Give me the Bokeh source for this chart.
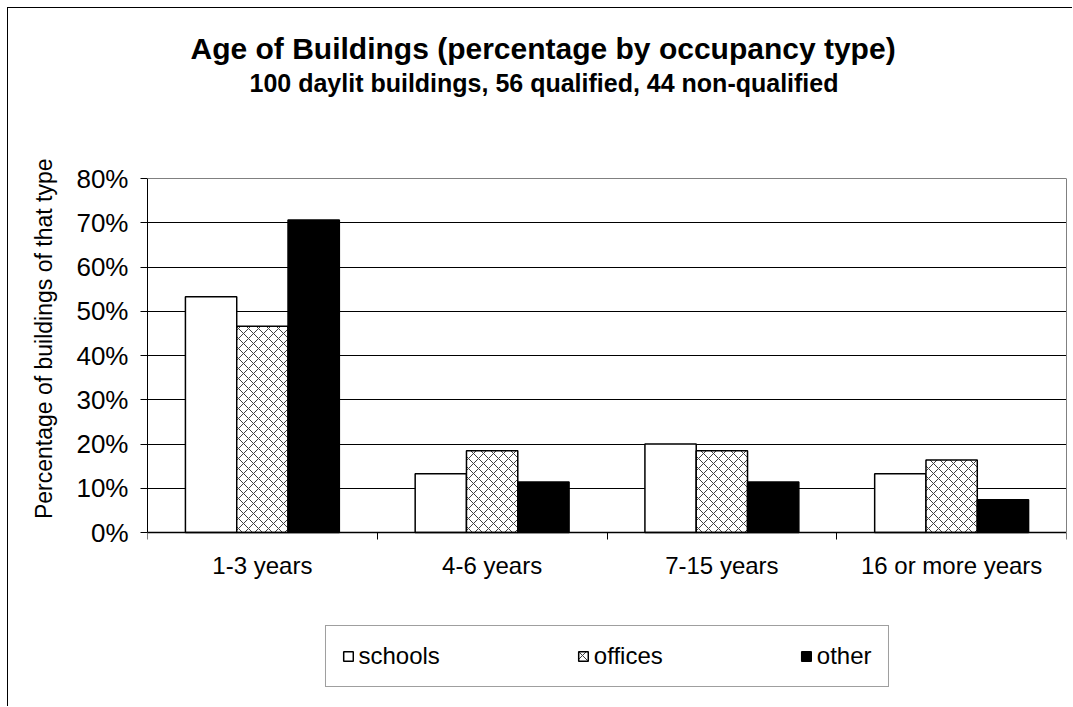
from bokeh.plotting import figure
from bokeh.models import (FixedTicker, PrintfTickFormatter, Legend, LegendItem,
                          Title, ColumnDataSource, Range1d, LinearAxis, Span)
from bokeh.embed import file_html
from bokeh.resources import INLINE

# ---- data ----
categories = ["1-3 years", "4-6 years", "7-15 years", "16 or more years"]
series = ["schools", "offices", "other"]
schools = [53.3, 13.3, 20.0, 13.3]
offices = [46.6, 18.5, 18.5, 16.4]
other = [70.6, 11.4, 11.4, 7.4]
y_ticks = [0, 10, 20, 30, 40, 50, 60, 70, 80]
title_text = "Age of Buildings (percentage by occupancy type)"
subtitle_text = "100 daylit buildings, 56 qualified, 44 non-qualified"
y_label = "Percentage of buildings of that type"

FONT = "Liberation Sans"
BAR_W = 0.2233

# ---- layout (pixels inside the figure) ----
W, H = 1065, 699
FRAME_TOP, FRAME_BOTTOM = 90, 699          # frame spans to the bottom (legend inside)
AXIS_Y0, AXIS_Y80 = 524, 170               # pixel rows of 0% and 80%
px_per_unit = (AXIS_Y0 - AXIS_Y80) / (y_ticks[-1] - y_ticks[0])
y_start = y_ticks[0] - (FRAME_BOTTOM - AXIS_Y0) / px_per_unit
y_end = y_ticks[-1] + (AXIS_Y80 - FRAME_TOP) / px_per_unit

p = figure(width=W, height=H, output_backend="svg", toolbar_location=None,
           x_range=Range1d(0, len(categories)), y_range=Range1d(y_start, y_end),
           min_border_left=139, min_border_right=7, min_border_top=FRAME_TOP,
           min_border_bottom=0, title=None)
p.styles = {"margin-left": "7px", "margin-top": "7px",
            "border-top": "1px solid black", "border-left": "1px solid black"}
p.background_fill_color = "white"
p.border_fill_color = "white"
p.outline_line_color = None

sub = Title(text=subtitle_text, align="left", offset=102, standoff=4,
            text_font=FONT, text_font_size="25px", text_font_style="bold",
            text_color="black")
p.add_layout(sub, "above")
main = Title(text=title_text, align="left", offset=43, standoff=0,
             text_font=FONT, text_font_size="30px", text_font_style="bold",
             text_color="black")
p.add_layout(main, "above")

centers = [i + 0.5 for i in range(len(categories))]
src = ColumnDataSource(dict(
    xs=[c - BAR_W for c in centers], xo=centers, xt=[c + BAR_W for c in centers],
    schools=schools, offices=offices, other=other))

# grid first so it sits under the bars
p.xgrid.visible = False
p.ygrid.ticker = FixedTicker(ticks=y_ticks[1:-1])
p.ygrid.grid_line_color = "black"
p.ygrid.grid_line_width = 1
p.add_layout(Span(location=y_ticks[-1], dimension="width",
                  line_color="#808080", line_width=1))

r1 = p.vbar(x="xs", top="schools", width=BAR_W, bottom=0, source=src,
            fill_color="white", line_color="black", line_width=1.5)
r2 = p.vbar(x="xo", top="offices", width=BAR_W, bottom=0, source=src,
            fill_color="white", line_color="black", line_width=1.5,
            hatch_pattern="x", hatch_color="#404040", hatch_scale=10, hatch_weight=1)
r3 = p.vbar(x="xt", top="other", width=BAR_W, bottom=0, source=src,
            fill_color="black", line_color="black", line_width=1.5)

# x axis drawn at 0%: labels at group centres, ticks at group boundaries
xa = p.xaxis[0]
xa.fixed_location = 0
xa.ticker = FixedTicker(ticks=centers, minor_ticks=list(range(len(categories) + 1)))
xa.major_label_overrides = {c: lab for c, lab in zip(centers, categories)}
xa.major_tick_in = 0
xa.major_tick_out = 0
xa.minor_tick_in = 0
xa.minor_tick_out = 7
xa.minor_tick_line_color = "black"
xa.axis_line_color = "black"
xa.axis_line_width = 1.5
xa.major_label_standoff = 12
xa.major_label_text_font = FONT
xa.major_label_text_font_size = "24px"
xa.major_label_text_color = "black"

ya = p.yaxis[0]
ya.bounds = (y_ticks[0], y_ticks[-1])
ya.ticker = FixedTicker(ticks=y_ticks, minor_ticks=[])
ya.formatter = PrintfTickFormatter(format="%d%%")
ya.major_tick_in = 0
ya.major_tick_out = 7
ya.major_tick_line_color = "black"
ya.minor_tick_out = 0
ya.minor_tick_in = 0
ya.axis_line_color = "black"
ya.major_label_standoff = 12
ya.major_label_text_font = FONT
ya.major_label_text_font_size = "26px"
ya.major_label_text_color = "black"

# y-axis title, positioned along the 0-80% span like the original
ylab = Title(text=y_label, align="right", offset=60, standoff=34,
             text_font=FONT, text_font_size="23px", text_font_style="normal",
             text_color="black")
p.add_layout(ylab, "left")

# grey right edge of the plot area
ra = LinearAxis(ticker=FixedTicker(ticks=[], minor_ticks=[]),
                bounds=(y_ticks[0], y_ticks[-1]), axis_line_color="#808080",
                major_tick_out=0, major_tick_in=0, minor_tick_out=0, minor_tick_in=0,
                major_label_standoff=0)
p.add_layout(ra, "right")

legend = Legend(items=[LegendItem(label=series[0], renderers=[r1]),
                       LegendItem(label=series[1], renderers=[r2]),
                       LegendItem(label=series[2], renderers=[r3])],
                orientation="horizontal", location="bottom_center", margin=20,
                label_text_font=FONT, label_text_font_size="24px",
                label_text_color="black", glyph_width=12, glyph_height=12,
                label_standoff=5, spacing=137, padding=16,
                border_line_color="#404040", border_line_width=1,
                background_fill_color="white", background_fill_alpha=1)
p.add_layout(legend, "center")

open("out.html", "w").write(file_html(p, INLINE))
